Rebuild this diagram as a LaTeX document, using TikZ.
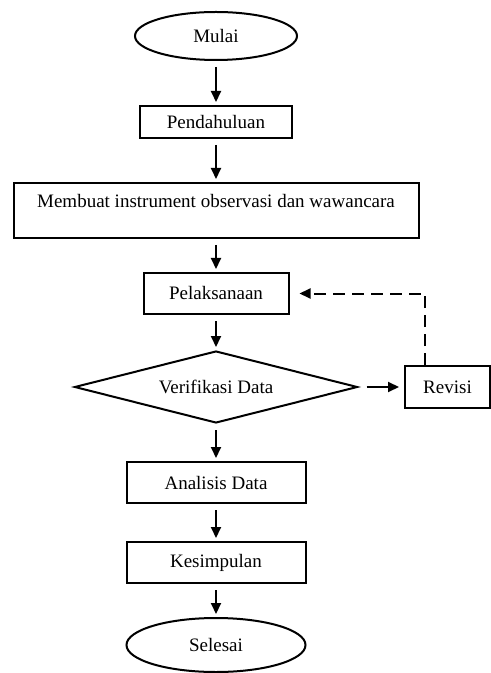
\documentclass[tikz,border=0pt]{standalone}
\usepackage{fontspec}
\setmainfont{Liberation Serif}
\usetikzlibrary{shapes.geometric,arrows.meta}

\begin{document}
\begin{tikzpicture}[x=0.5pt,y=-0.5pt,
	font=\fontsize{9.5}{11}\selectfont,
	box/.style={draw=black,line width=1pt,inner sep=0pt},
	oval/.style={shape=ellipse,draw=black,line width=1pt,inner sep=0pt},
	arr/.style={-{Triangle[length=5.5pt,width=5pt]},line width=1pt,shorten <=3pt,shorten >=1.5pt}]
	
	\useasboundingbox (0,0) rectangle (491,673);
	
	\node[oval,minimum width=81pt,minimum height=24pt]   (mulai)       at (216, 36)    {Mulai};
	\node[box,minimum width=76pt,minimum height=16pt]    (pendahuluan) at (216, 122)   {Pendahuluan};
	\node[box,minimum width=202.5pt,minimum height=27.5pt,text depth=9.5pt] (instrumen) at (216, 210.5) {Membuat instrument observasi dan wawancara};
	\node[box,minimum width=72.5pt,minimum height=20.5pt] (pelaksanaan) at (216, 293.5) {Pelaksanaan};
	\node[shape=diamond,aspect=3.9,draw=black,line width=1pt,inner sep=0pt,minimum width=141.5pt,minimum height=36pt] (verifikasi) at (216, 387) {Verifikasi Data};
	\node[box,minimum width=42.5pt,minimum height=21pt]  (revisi)      at (447.5, 387) {Revisi};
	\node[box,minimum width=89.5pt,minimum height=20.5pt] (analisis)   at (216, 482.5) {Analisis Data};
	\node[box,minimum width=89.5pt,minimum height=20.5pt] (kesimpulan) at (216, 562.5) {Kesimpulan};
	\node[oval,minimum width=89.5pt,minimum height=27pt] (selesai)     at (216, 645)   {Selesai};
	
	\path[arr] (mulai)       edge (pendahuluan);
	\path[arr] (pendahuluan) edge (instrumen);
	\path[arr] (instrumen)   edge (pelaksanaan);
	\path[arr] (pelaksanaan) edge (verifikasi.north);
	\path[arr] (verifikasi.south) edge (analisis);
	\path[arr] (analisis)    edge (kesimpulan);
	\path[arr] (kesimpulan)  edge (selesai);
	\path[arr,shorten <=4pt,shorten >=2.5pt] (verifikasi.east) edge (revisi.west);
	
	% kembali ke pelaksanaan
	\draw[arr,dash pattern=on 6pt off 3.5pt,shorten <=0pt,shorten >=5pt] ([xshift=-11.25pt]revisi.north) |- (pelaksanaan.east);
	
\end{tikzpicture}
\end{document}
